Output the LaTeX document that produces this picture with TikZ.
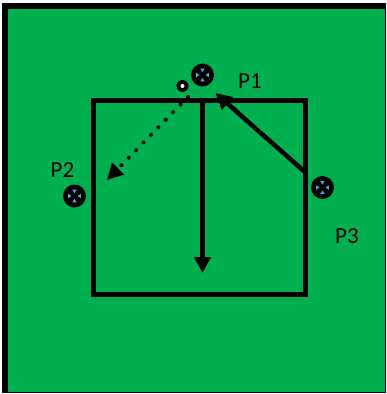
\documentclass[tikz,border=0pt]{standalone}
\usepackage{fontspec}
\setmainfont{Carlito}
\usepackage{tikz}
\usetikzlibrary{arrows.meta,positioning,calc}
\definecolor{pitchgreen}{RGB}{0,176,80}
\definecolor{markblue}{RGB}{91,155,213}

\begin{document}
\begin{tikzpicture}[x=1pt, y=-1pt,
lbl/.style={font=\fontsize{23}{26}\selectfont, inner sep=0pt},
player/.style={circle, fill=black, minimum size=23pt, inner sep=0pt,
path picture={\foreach \r in {0,90,180,270}
\fill[markblue] ([shift={(\r:3pt)}]path picture bounding box.center)
-- ([shift={(\r+20:6.8pt)}]path picture bounding box.center)
-- ([shift={(\r-20:6.8pt)}]path picture bounding box.center) -- cycle;}},
ball/.style={circle, fill=black, minimum size=12pt, inner sep=0pt,
path picture={\fill[white] (path picture bounding box.center) circle (2pt);}},
boxline/.style={line width=5pt, draw=black},
run/.style={-{Triangle[length=16pt,width=16pt]}, line width=4.5pt, draw=black},
pass/.style={-{Triangle[length=16pt,width=16pt]}, line width=4pt, draw=black,
dash pattern=on 0pt off 10.6pt, line cap=round}
]
\useasboundingbox (0,0) rectangle (387,394);

% pitch
\fill[black] (2,3) rectangle (386,393);
\fill[pitchgreen] (8,9) rectangle (385,392);
\draw[boxline] (93,100.5) rectangle (305,294);

\node[player] (p1) at (202.5,75) {};
\node[player] (p2) at (74.5,196) {};
\node[player] (p3) at (322.5,187.5) {};
\node[ball] (bl) at (182.5,86) {};

\node[lbl] (l1) at (250,81) {P1};
\node[lbl] (l2) at (62.5,170) {P2};
\node[lbl] (l3) at (347,236.5) {P3};

\coordinate (runtop) at (202.5,100.5);
\coordinate (runend) at (202.5,273);
\coordinate (p3edge) at (305,172);
\coordinate (p1edge) at (215.5,93);
\coordinate (passstart) at (188,97);
\coordinate (passend) at (107,180);

\draw[run] (runtop) -- (runend);
\draw[run] (p3edge) -- (p1edge);
\draw[pass] (passstart) -- (passend);

\end{tikzpicture}
\end{document}
